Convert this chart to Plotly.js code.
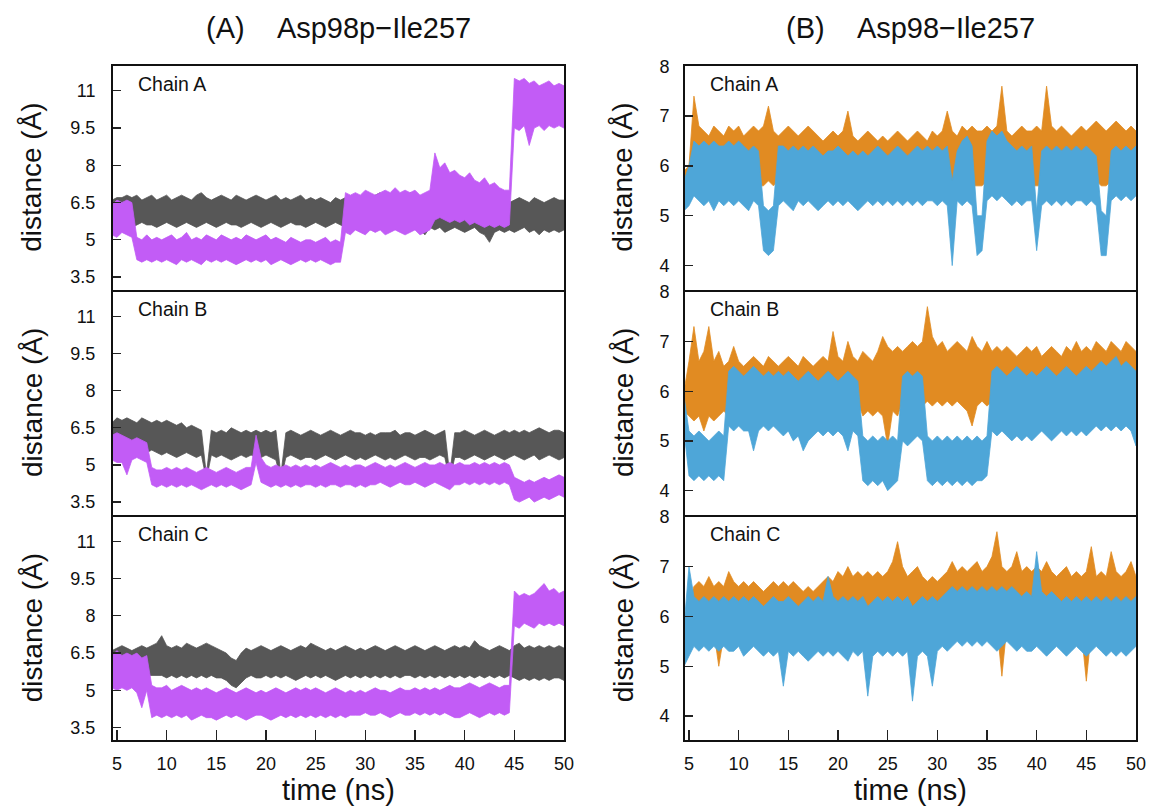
<!DOCTYPE html>
<html>
<head>
<meta charset="utf-8">
<script src="https://cdn.plot.ly/plotly-3.0.1.min.js"></script>
<style>html,body{margin:0;padding:0;background:#fff;}#chart{width:1153px;height:807px;}</style>
</head>
<body>
<div id="chart"></div>
<script>
// ---------------- DATA (band = lower/upper envelope of each trace) ----------------
const time = [4.5,5,5.5,6,6.5,7,7.5,8,8.5,9,
  9.5,10,10.5,11,11.5,12,12.5,13,13.5,14,
  14.5,15,15.5,16,16.5,17,17.5,18,18.5,19,
  19.5,20,20.5,21,21.5,22,22.5,23,23.5,24,
  24.5,25,25.5,26,26.5,27,27.5,28,28.5,29,
  29.5,30,30.5,31,31.5,32,32.5,33,33.5,34,
  34.5,35,35.5,36,36.5,37,37.5,38,38.5,39,
  39.5,40,40.5,41,41.5,42,42.5,43,43.5,44,
  44.5,45,45.5,46,46.5,47,47.5,48,48.5,49,
  49.5,50];

const xTicks = [5,10,15,20,25,30,35,40,45,50];
const leftYTicks = [3.5,5,6.5,8,9.5,11];
const leftYTickText = ['3.5','5','6.5','8','9.5','11'];
const rightYTicks = [4,5,6,7,8];
const chainNames = ['Chain A','Chain B','Chain C'];
const panelTitles = ['(A)\u00A0\u00A0\u00A0\u00A0Asp98p\u2212Ile257','(B)\u00A0\u00A0\u00A0\u00A0Asp98\u2212Ile257'];

// (A) Asp98p-Ile257, Chain A
const leftA_greyHi = [6.6,6.7,6.7,6.8,6.7,6.8,6.6,6.7,6.8,6.6,
  6.7,6.8,6.6,6.7,6.8,6.7,6.6,6.8,6.9,6.7,
  6.6,6.7,6.8,6.7,6.6,6.8,6.7,6.6,6.7,6.8,
  6.7,6.6,6.7,6.8,6.6,6.7,6.6,6.7,6.8,6.6,
  6.7,6.6,6.7,6.6,6.5,6.7,6.6,6.7,6.6,6.8,
  6.7,6.8,6.7,6.8,6.9,6.7,6.8,6.9,6.8,6.7,
  6.9,6.8,6.7,6.6,6.5,6.4,6.4,6.5,6.4,6.5,
  6.4,6.3,6.4,6.5,6.3,6.4,6.3,6.4,6.5,6.4,
  6.5,6.6,6.7,6.6,6.5,6.7,6.6,6.5,6.6,6.7,
  6.6,6.6];
const leftA_greyLo = [5.7,5.6,5.7,5.6,5.5,5.6,5.7,5.6,5.6,5.5,
  5.6,5.7,5.6,5.5,5.6,5.7,5.6,5.5,5.6,5.7,
  5.6,5.5,5.6,5.7,5.6,5.6,5.5,5.6,5.7,5.6,
  5.5,5.6,5.7,5.6,5.5,5.6,5.7,5.6,5.6,5.5,
  5.6,5.7,5.6,5.5,5.6,5.7,5.6,5.5,5.5,5.6,
  5.6,5.5,5.4,5.5,5.6,5.5,5.6,5.5,5.4,5.5,
  5.6,5.5,5.4,5.2,5.5,5.4,5.5,5.3,5.4,5.5,
  5.4,5.3,5.4,5.5,5.3,5.2,4.9,5.3,5.4,5.3,
  5.4,5.3,5.4,5.5,5.3,5.4,5.2,5.4,5.3,5.4,
  5.3,5.4];
const leftA_violetHi = [6.4,6.6,6.5,6.6,6.5,5.1,5.0,5.2,5.0,5.1,
  5.0,5.1,5.2,5.0,5.1,5.3,5.0,5.1,5.0,5.2,
  5.1,5.0,5.2,5.1,5.0,5.1,5.0,5.2,5.1,5.0,
  5.1,5.2,5.0,5.1,5.0,4.9,5.1,5.0,4.9,5.0,
  5.0,4.9,5.0,5.1,4.9,5.0,4.9,6.9,6.8,6.9,
  6.8,7.0,6.9,6.8,6.9,7.0,6.9,7.1,6.9,7.0,
  6.9,7.0,6.8,6.9,7.0,8.5,7.9,8.1,7.7,7.8,
  7.6,7.5,7.7,7.4,7.3,7.5,7.2,7.3,7.1,7.0,
  7.0,11.5,11.4,11.5,11.3,11.4,11.2,11.3,11.4,11.2,
  11.3,11.2];
const leftA_violetLo = [5.2,5.1,5.3,5.2,5.1,4.2,4.1,4.2,4.1,4.2,
  4.1,4.2,4.1,4.0,4.2,4.1,4.2,4.1,4.0,4.2,
  4.1,4.2,4.1,4.2,4.1,4.0,4.1,4.2,4.1,4.2,
  4.1,4.2,4.0,4.1,4.2,4.1,4.0,4.1,4.2,4.1,
  4.2,4.1,4.2,4.1,4.0,4.1,4.1,5.3,5.2,5.4,
  5.3,5.2,5.4,5.3,5.4,5.2,5.3,5.4,5.3,5.2,
  5.3,5.4,5.2,5.3,5.4,5.8,5.9,5.8,5.7,5.8,
  5.7,5.8,5.6,5.7,5.6,5.5,5.6,5.5,5.6,5.5,
  5.6,9.5,9.4,9.6,8.8,9.5,9.6,9.4,9.6,9.5,
  9.6,9.5];

// (A) Chain B
const leftB_greyHi = [6.7,6.9,6.8,6.9,6.8,6.7,6.9,6.8,6.7,6.8,
  6.7,6.8,6.7,6.6,6.7,6.5,6.6,6.5,6.4,4.6,
  6.4,6.3,6.4,6.3,6.5,6.4,6.3,6.4,6.3,6.4,
  6.3,6.4,6.3,6.4,4.6,6.3,6.4,6.3,6.2,6.3,
  6.4,6.3,6.2,6.3,6.4,6.3,6.2,6.3,6.4,6.3,
  6.3,6.2,6.3,6.2,6.3,6.3,6.3,6.4,6.2,6.3,
  6.3,6.2,6.3,6.4,6.3,6.2,6.3,6.4,4.6,6.3,
  6.3,6.4,6.3,6.2,6.3,6.4,6.3,6.2,6.3,6.4,
  6.3,6.4,6.3,6.4,6.3,6.4,6.5,6.4,6.3,6.4,
  6.4,6.3];
const leftB_greyLo = [5.6,5.5,5.6,5.5,5.6,5.5,5.4,5.5,5.6,5.5,
  5.4,5.5,5.4,5.3,5.4,5.5,5.4,5.3,5.4,4.4,
  5.4,5.3,5.4,5.3,5.2,5.3,5.4,5.3,5.4,5.3,
  5.3,5.4,5.3,5.2,4.4,5.3,5.4,5.3,5.2,5.3,
  5.3,5.2,5.3,5.4,5.3,5.2,5.3,5.4,5.3,5.2,
  5.3,5.2,5.3,5.4,5.3,5.2,5.3,5.2,5.3,5.4,
  5.3,5.2,5.3,5.3,5.2,5.3,5.4,5.3,4.4,5.3,
  5.3,5.2,5.3,5.4,5.3,5.2,5.3,5.4,5.3,5.2,
  5.3,5.4,5.3,5.2,5.3,5.4,5.2,5.3,5.4,5.3,
  5.2,5.3];
const leftB_violetHi = [6.2,6.3,6.2,6.1,6.0,6.1,6.0,5.9,4.9,4.8,
  4.8,4.9,4.8,4.9,4.8,4.9,4.8,4.7,4.8,4.9,
  4.8,4.7,4.8,4.9,4.8,4.7,4.8,4.9,4.9,6.2,
  5.3,5.0,4.9,5.0,4.9,5.0,4.9,5.0,4.9,5.0,
  4.9,5.0,4.9,5.0,5.1,5.0,4.9,5.0,4.9,5.0,
  5.0,4.9,5.0,5.1,5.0,4.9,5.0,4.9,5.0,5.1,
  5.0,4.9,5.0,5.1,5.0,5.0,5.1,5.0,5.1,5.0,
  5.1,5.0,5.0,5.1,5.0,5.1,5.0,5.1,5.0,5.1,
  5.0,4.5,4.4,4.3,4.4,4.3,4.4,4.5,4.4,4.5,
  4.6,4.5];
const leftB_violetLo = [5.2,5.1,5.1,4.6,5.2,5.3,5.2,5.1,4.2,4.1,
  4.2,4.1,4.2,4.1,4.2,4.1,4.2,4.1,4.0,4.1,
  4.2,4.1,4.2,4.1,4.2,4.1,4.0,4.1,4.2,5.1,
  4.3,4.2,4.1,4.2,4.1,4.2,4.1,4.2,4.1,4.2,
  4.2,4.1,4.2,4.1,4.2,4.2,4.1,4.2,4.2,4.1,
  4.2,4.1,4.2,4.2,4.3,4.2,4.1,4.2,4.3,4.2,
  4.2,4.3,4.2,4.1,4.2,4.3,4.2,4.1,4.0,4.2,
  4.2,4.3,4.2,4.3,4.2,4.3,4.2,4.3,4.2,4.3,
  4.2,3.6,3.5,3.6,3.7,3.5,3.6,3.7,3.6,3.7,
  3.8,3.7];

// (A) Chain C
const leftC_greyHi = [6.6,6.7,6.8,6.7,6.6,6.7,6.8,6.7,6.8,6.9,
  7.2,6.8,6.7,6.8,6.7,6.9,6.8,6.7,6.8,6.9,
  6.8,6.7,6.6,6.5,6.3,6.2,6.5,6.7,6.6,6.7,
  6.8,6.7,6.6,6.7,6.8,6.7,6.6,6.7,6.8,6.7,
  6.9,6.8,6.7,6.6,6.7,6.6,6.7,6.8,6.7,6.6,
  6.7,6.6,6.7,6.8,6.7,6.6,6.7,6.8,6.7,6.6,
  6.7,6.8,6.7,6.6,6.7,6.8,6.7,6.6,6.7,6.8,
  6.7,6.8,6.7,7.0,6.8,6.7,6.6,6.7,6.8,6.7,
  6.6,6.8,6.9,6.7,6.8,6.7,6.8,6.7,6.8,6.7,
  6.8,6.7];
const leftC_greyLo = [5.6,5.5,5.6,5.7,5.6,5.6,5.5,5.6,5.6,5.6,
  5.6,5.5,5.6,5.5,5.6,5.5,5.6,5.5,5.6,5.5,
  5.6,5.5,5.5,5.4,5.2,5.1,5.3,5.5,5.6,5.5,
  5.5,5.6,5.5,5.6,5.5,5.6,5.5,5.4,5.5,5.6,
  5.5,5.6,5.5,5.6,5.5,5.4,5.5,5.6,5.5,5.6,
  5.5,5.6,5.5,5.6,5.5,5.6,5.5,5.6,5.5,5.6,
  5.6,5.5,5.6,5.5,5.6,5.5,5.6,5.5,5.6,5.5,
  5.6,5.5,5.6,5.5,5.6,5.5,5.6,5.5,5.6,5.5,
  5.6,5.5,5.4,5.5,5.4,5.5,5.4,5.5,5.4,5.5,
  5.5,5.4];
const leftC_violetHi = [6.4,6.6,6.4,6.5,6.4,6.5,6.3,6.4,5.2,5.1,
  5.1,5.2,5.0,5.1,5.2,5.1,5.0,5.1,5.0,5.1,
  5.0,4.9,5.0,5.1,5.0,4.9,5.0,5.1,5.0,4.9,
  5.0,4.9,5.0,5.1,5.0,4.9,5.0,5.1,5.0,5.1,
  5.0,5.1,5.0,4.9,5.0,5.1,5.0,4.9,5.0,4.9,
  5.0,4.9,5.0,5.1,5.0,5.0,4.9,5.0,5.1,5.0,
  5.0,5.1,5.0,5.1,5.0,5.1,5.0,5.1,5.2,5.1,
  5.1,5.2,5.3,5.2,5.1,5.2,5.3,5.2,5.1,5.2,
  5.2,9.0,8.8,8.9,8.8,8.9,9.1,9.3,9.0,9.1,
  8.9,9.0];
const leftC_violetLo = [5.1,5.0,5.1,5.0,5.1,4.9,4.3,5.0,3.9,4.0,
  3.9,4.0,3.9,4.0,3.9,4.0,3.8,3.9,4.0,3.9,
  3.9,3.8,3.9,4.0,3.9,4.0,3.9,3.8,3.9,4.0,
  4.0,3.9,3.8,3.9,4.0,3.9,4.0,3.9,4.0,3.9,
  4.0,3.9,4.0,3.9,4.0,3.9,4.0,3.9,4.0,4.0,
  4.0,4.1,4.0,4.0,4.1,4.0,3.9,4.0,4.1,4.0,
  4.0,4.1,4.0,4.1,4.0,4.1,4.0,4.1,4.0,3.9,
  3.9,4.0,4.1,4.0,3.9,4.0,4.1,4.0,4.1,4.0,
  4.1,7.6,7.5,7.7,7.6,7.5,7.7,7.6,7.7,7.6,
  7.7,7.6];

// (B) Asp98-Ile257, Chain A
const rightA_orangeHi = [5.9,6.0,7.4,6.8,6.7,6.6,6.8,6.7,6.6,6.8,
  6.7,6.8,6.6,6.7,6.8,6.7,6.8,7.2,6.7,6.6,
  6.7,6.8,6.7,6.6,6.7,6.8,6.7,6.6,6.5,6.6,
  6.7,6.6,6.7,7.1,6.6,6.5,6.6,6.7,6.6,6.5,
  6.6,6.5,6.6,6.7,6.6,6.5,6.6,6.7,6.6,6.5,
  6.7,6.6,6.7,7.1,6.7,6.6,6.8,6.7,6.8,6.7,
  6.7,6.8,6.7,6.8,7.6,6.7,6.6,6.7,6.8,6.7,
  6.7,6.8,6.7,7.6,6.8,6.7,6.8,6.7,6.6,6.7,
  6.8,6.7,6.8,6.9,6.8,6.7,6.8,6.9,6.8,6.7,
  6.8,6.7];
const rightA_orangeLo = [5.6,5.6,5.7,5.6,5.7,5.6,5.7,5.6,5.7,5.6,
  5.7,5.6,5.7,5.6,5.7,5.6,5.6,5.7,5.6,5.7,
  5.6,5.7,5.6,5.7,5.6,5.7,5.6,5.7,5.6,5.7,
  5.6,5.7,5.6,5.7,5.6,5.7,5.6,5.7,5.6,5.7,
  5.6,5.7,5.6,5.7,5.6,5.7,5.6,5.7,5.6,5.7,
  5.6,5.7,5.6,5.7,5.6,5.7,5.6,5.7,5.6,5.6,
  5.6,5.7,5.6,5.7,5.6,5.7,5.6,5.7,5.6,5.7,
  5.6,5.6,5.6,5.7,5.6,5.7,5.6,5.7,5.6,5.7,
  5.6,5.7,5.6,5.7,5.6,5.6,5.7,5.6,5.7,5.6,
  5.7,5.6];
const rightA_blueHi = [5.7,6.0,6.5,6.4,6.5,6.4,6.5,6.4,6.4,6.5,
  6.4,6.5,6.4,6.3,6.4,6.3,5.2,5.1,5.2,6.4,
  6.4,6.3,6.4,6.3,6.4,6.3,6.4,6.3,6.2,6.3,
  6.3,6.4,6.3,6.2,6.3,6.2,6.3,6.2,6.3,6.4,
  6.3,6.2,6.3,6.4,6.3,6.2,6.3,6.4,6.3,6.4,
  6.3,6.4,6.3,6.4,5.7,6.3,6.5,6.6,6.4,5.0,
  5.0,6.5,6.7,6.6,6.7,6.5,6.4,6.3,6.4,6.3,
  6.4,5.1,6.3,6.4,6.3,6.4,6.3,6.4,6.3,6.4,
  6.3,6.4,6.3,6.2,5.1,5.0,6.3,6.4,6.3,6.4,
  6.3,6.4];
const rightA_blueLo = [5.1,5.2,5.4,5.3,5.2,5.3,5.1,5.3,5.2,5.3,
  5.2,5.3,5.2,5.1,5.3,5.2,4.3,4.2,4.3,5.2,
  5.3,5.2,5.1,5.3,5.2,5.3,5.2,5.1,5.2,5.3,
  5.2,5.3,5.2,5.3,5.2,5.1,5.2,5.3,5.2,5.3,
  5.2,5.3,5.2,5.3,5.2,5.3,5.2,5.3,5.2,5.3,
  5.3,5.2,5.3,5.2,4.0,5.3,5.2,5.3,5.2,4.2,
  4.3,5.3,5.4,5.3,5.4,5.3,5.2,5.3,5.2,5.3,
  5.3,4.3,5.2,5.3,5.2,5.3,5.2,5.3,5.2,5.3,
  5.3,5.2,5.3,5.2,4.2,4.2,5.3,5.4,5.3,5.4,
  5.3,5.4];

// (B) Chain B
const rightB_orangeHi = [6.0,6.6,7.3,6.6,6.8,7.3,6.6,6.8,6.5,6.6,
  6.9,6.6,6.5,6.6,6.7,6.6,6.5,6.7,6.6,6.5,
  6.6,6.7,6.6,6.5,6.7,6.6,6.5,6.6,6.7,6.6,
  7.2,6.7,6.6,7.0,6.7,6.6,6.8,6.7,6.6,6.8,
  7.1,6.9,6.8,6.9,6.8,6.9,7.0,6.9,7.0,7.7,
  7.1,6.9,7.0,6.8,6.9,7.0,6.9,6.8,7.1,6.9,
  6.8,7.0,6.8,6.9,6.8,6.9,6.8,6.7,6.8,6.9,
  6.8,6.9,6.7,6.8,6.9,6.8,6.7,6.9,6.8,7.0,
  6.8,6.9,6.8,7.0,6.9,6.8,7.0,6.9,6.8,7.0,
  6.9,6.8];
const rightB_orangeLo = [5.6,5.5,5.4,5.5,5.2,5.5,5.4,5.5,5.6,5.5,
  5.7,5.8,5.7,5.8,5.7,5.8,5.7,5.8,5.7,5.8,
  5.7,5.8,5.7,5.8,5.7,5.8,5.7,5.8,5.7,5.8,
  5.7,5.8,5.7,5.8,5.7,5.8,5.5,5.6,5.5,5.6,
  5.5,4.9,5.6,5.5,5.8,5.7,5.9,5.8,5.7,5.8,
  5.7,5.8,5.7,5.8,5.7,5.8,5.7,5.6,5.3,5.7,
  5.8,5.7,5.8,5.7,5.8,5.7,5.8,5.7,5.8,5.7,
  5.8,5.7,5.8,5.7,5.8,5.7,5.8,5.7,5.8,5.7,
  5.8,5.7,5.8,5.7,5.8,5.7,5.8,5.7,5.8,5.7,
  5.8,5.7];
const rightB_blueHi = [5.9,5.2,5.1,5.2,5.1,5.0,5.1,5.2,5.1,6.4,
  6.5,6.4,6.3,6.4,6.5,6.4,6.3,6.4,6.3,6.4,
  6.3,6.4,6.3,6.2,6.3,6.4,6.3,6.2,6.3,6.4,
  6.3,6.2,6.3,6.4,6.3,6.2,5.1,5.0,5.1,5.0,
  5.1,5.0,5.1,5.0,6.3,6.4,6.3,6.4,6.3,5.1,
  5.0,5.1,5.0,5.1,5.0,5.1,5.0,5.1,5.0,5.1,
  5.0,5.1,6.4,6.5,6.4,6.3,6.4,6.5,6.4,6.3,
  6.4,6.3,6.4,6.5,6.4,6.3,6.4,6.5,6.4,6.3,
  6.4,6.5,6.4,6.5,6.6,6.5,6.6,6.7,6.5,6.6,
  6.5,6.4];
const rightB_blueLo = [5.2,4.3,4.2,4.3,4.2,4.3,4.2,4.3,4.2,5.3,
  5.2,5.3,5.2,5.2,4.8,5.2,5.3,5.2,5.3,5.2,
  5.1,5.2,5.0,5.1,4.8,5.0,5.1,5.2,5.1,5.2,
  5.1,5.2,5.1,4.8,5.2,5.1,4.2,4.1,4.2,4.1,
  4.2,4.0,4.1,4.2,5.0,4.9,5.0,5.1,5.0,4.2,
  4.1,4.2,4.1,4.2,4.1,4.2,4.1,4.2,4.1,4.2,
  4.2,4.3,5.2,5.1,5.2,5.1,5.0,5.1,5.0,5.1,
  5.0,5.1,5.2,5.1,5.0,5.1,5.2,5.1,5.2,5.1,
  5.2,5.1,5.2,5.3,5.2,5.3,5.2,5.3,5.2,5.3,
  5.2,4.9];

// (B) Chain C
const rightC_orangeHi = [5.9,6.3,6.6,6.7,6.6,6.8,6.6,6.7,6.6,6.9,
  6.7,6.6,6.7,6.6,6.7,6.6,6.5,6.6,6.7,6.6,
  6.7,6.6,6.7,6.6,6.5,6.6,6.5,6.6,6.7,6.8,
  6.7,6.9,6.8,7.0,6.8,6.9,6.8,6.9,6.8,6.9,
  6.8,6.9,7.1,7.5,7.0,6.8,6.9,7.0,6.8,6.7,
  6.8,6.7,6.8,6.9,7.1,6.9,7.0,6.9,7.0,7.1,
  6.9,7.0,7.2,7.7,7.0,6.9,7.0,7.3,6.9,7.0,
  6.9,7.0,6.9,7.1,6.9,6.8,6.9,7.0,6.8,6.9,
  6.8,6.9,7.4,6.8,6.9,6.8,7.3,6.9,6.8,6.9,
  7.1,6.8];
const rightC_orangeLo = [5.7,5.6,5.7,5.6,5.7,5.6,5.7,5.0,5.6,5.7,
  5.6,5.7,5.6,5.7,5.6,5.7,5.6,5.7,5.6,5.7,
  5.6,5.7,5.6,5.7,5.6,5.7,5.6,5.7,5.6,5.7,
  5.6,5.7,5.6,5.7,5.6,5.7,5.6,5.7,5.6,5.7,
  5.6,5.7,5.6,5.7,5.6,5.7,5.6,5.7,5.6,5.7,
  5.7,5.8,5.7,5.8,5.7,5.8,5.7,5.8,5.7,5.8,
  5.7,5.8,5.7,5.8,4.8,5.8,5.7,5.8,5.7,5.8,
  5.7,5.8,5.7,5.8,5.7,5.8,5.7,5.8,5.7,5.8,
  5.7,4.7,5.7,5.8,5.7,5.8,5.7,5.8,5.7,5.8,
  5.7,5.8];
const rightC_blueHi = [5.8,7.0,6.4,6.3,6.4,6.3,6.4,6.3,6.4,6.3,
  6.4,6.3,6.4,6.3,6.4,6.3,6.2,6.3,6.4,6.3,
  6.3,6.4,6.3,6.2,6.3,6.4,6.3,6.4,6.3,6.8,
  6.4,6.3,6.4,6.3,6.4,6.3,6.4,6.2,6.3,6.4,
  6.3,6.4,6.3,6.4,6.3,6.4,6.2,6.3,6.4,6.3,
  6.4,6.3,6.4,6.5,6.6,6.5,6.6,6.5,6.6,6.5,
  6.6,6.5,6.6,6.5,6.6,6.5,6.6,6.5,6.4,6.5,
  6.4,7.3,6.5,6.4,6.5,6.4,6.3,6.4,6.3,6.4,
  6.3,6.4,6.3,6.4,6.3,6.4,6.3,6.4,6.3,6.4,
  6.3,6.4];
const rightC_blueLo = [5.0,5.2,5.4,5.3,5.4,5.3,5.4,5.3,5.4,5.3,
  5.3,5.4,5.2,5.3,5.4,5.3,5.2,5.3,5.2,5.3,
  4.6,5.3,5.2,5.3,5.2,5.1,5.2,5.3,5.2,5.3,
  5.2,5.3,5.2,5.1,5.3,5.2,5.3,4.4,5.2,5.3,
  5.2,5.3,5.2,5.3,5.2,5.3,4.3,5.2,5.3,5.2,
  4.6,5.3,5.4,5.3,5.4,5.5,5.4,5.5,5.4,5.5,
  5.4,5.5,5.4,5.3,5.4,5.5,5.4,5.3,5.4,5.3,
  5.3,5.4,5.3,5.2,5.3,5.4,5.3,5.2,5.3,5.4,
  5.3,5.2,5.3,5.4,5.3,5.2,5.3,5.2,5.3,5.2,
  5.3,5.4];

// ---------------- STYLE ----------------
const FONT = '"Liberation Sans", Arial, Helvetica, sans-serif';
const GREY = '#575757', VIOLET = '#c25cf6', ORANGE = '#e18b22', BLUE = '#4ea6d8';
const W = 1153, H = 807;
const px = v => v / W, py = v => 1 - v / H;
const colX = [[113, 564], [685, 1136]];
const rowY = [[66, 289.5], [291.5, 514.5], [516.5, 740]];

function band(t, hi, lo, color, ax) {
  const rt = t.slice().reverse();
  return {
    type: 'scatter', mode: 'lines',
    x: t.concat(rt), y: hi.concat(lo.slice().reverse()),
    fill: 'toself', fillcolor: color,
    line: {color: color, width: 0.8},
    xaxis: 'x' + ax, yaxis: 'y' + ax,
    hoverinfo: 'skip', showlegend: false
  };
}

const leftSeries = [
  [leftA_greyHi, leftA_greyLo, leftA_violetHi, leftA_violetLo],
  [leftB_greyHi, leftB_greyLo, leftB_violetHi, leftB_violetLo],
  [leftC_greyHi, leftC_greyLo, leftC_violetHi, leftC_violetLo]
];
const rightSeries = [
  [rightA_orangeHi, rightA_orangeLo, rightA_blueHi, rightA_blueLo],
  [rightB_orangeHi, rightB_orangeLo, rightB_blueHi, rightB_blueLo],
  [rightC_orangeHi, rightC_orangeLo, rightC_blueHi, rightC_blueLo]
];

const data = [];
const layout = {
  width: W, height: H,
  margin: {l: 0, r: 0, t: 0, b: 0},
  paper_bgcolor: '#fff', plot_bgcolor: '#fff',
  showlegend: false, hovermode: false,
  font: {family: FONT, color: '#111'},
  annotations: []
};

for (let c = 0; c < 2; c++) {
  for (let r = 0; r < 3; r++) {
    const n = c * 3 + r + 1;
    const ax = n === 1 ? '' : String(n);
    const s = c === 0 ? leftSeries[r] : rightSeries[r];
    const c1 = c === 0 ? GREY : ORANGE, c2 = c === 0 ? VIOLET : BLUE;
    data.push(band(time, s[0], s[1], c1, ax));
    data.push(band(time, s[2], s[3], c2, ax));
    const bottom = r === 2;
    layout['xaxis' + ax] = {
      domain: [px(colX[c][0]), px(colX[c][1])],
      range: [4.6, 50], anchor: 'y' + ax,
      showline: true, mirror: true, linecolor: '#111', linewidth: 2,
      showgrid: false, zeroline: false, fixedrange: true,
      tickmode: 'array', tickvals: xTicks,
      ticks: bottom ? 'inside' : '', ticklen: 10, tickwidth: 1.3, tickcolor: '#222',
      showticklabels: bottom, ticklabelstandoff: 6,
      tickfont: {family: FONT, size: 18, color: '#111'}
    };
    layout['yaxis' + ax] = {
      domain: [py(rowY[r][1]), py(rowY[r][0])],
      range: c === 0 ? [3, 12] : [3.52, 8.005],
      anchor: 'x' + ax,
      showline: true, mirror: true, linecolor: '#111', linewidth: 2,
      showgrid: false, zeroline: false, fixedrange: true,
      tickmode: 'array',
      tickvals: c === 0 ? leftYTicks : rightYTicks,
      ticktext: c === 0 ? leftYTickText : rightYTicks.map(String),
      ticks: 'inside', ticklen: 8, tickwidth: 1.3, tickcolor: '#222',
      ticklabelstandoff: c === 0 ? 12 : 10,
      tickfont: {family: FONT, size: 18, color: '#111'}
    };
    // chain label
    layout.annotations.push({
      text: chainNames[r], xref: 'x' + ax + ' domain', yref: 'y' + ax + ' domain',
      x: 0.05, y: 0.92, xanchor: 'left', yanchor: 'middle', showarrow: false,
      font: {family: FONT, size: 19.5, color: '#111'}
    });
    // y title
    layout.annotations.push({
      text: 'distance (\u00C5)', xref: 'paper', yref: 'paper',
      x: px(c === 0 ? 32 : 623), y: py((rowY[r][0] + rowY[r][1]) / 2),
      xanchor: 'center', yanchor: 'middle', textangle: -90, showarrow: false,
      font: {family: FONT, size: 28, color: '#111'}
    });
  }
  // column title
  layout.annotations.push({
    text: panelTitles[c], xref: 'paper', yref: 'paper',
    x: px((colX[c][0] + colX[c][1]) / 2), y: py(28),
    xanchor: 'center', yanchor: 'middle', showarrow: false,
    font: {family: FONT, size: 29, color: '#111'}
  });
  // x title
  layout.annotations.push({
    text: 'time (ns)', xref: 'paper', yref: 'paper',
    x: px((colX[c][0] + colX[c][1]) / 2), y: py(790),
    xanchor: 'center', yanchor: 'middle', showarrow: false,
    font: {family: FONT, size: 29, color: '#111'}
  });
}

Plotly.newPlot('chart', data, layout, {staticPlot: true, displayModeBar: false});
</script>
</body>
</html>
